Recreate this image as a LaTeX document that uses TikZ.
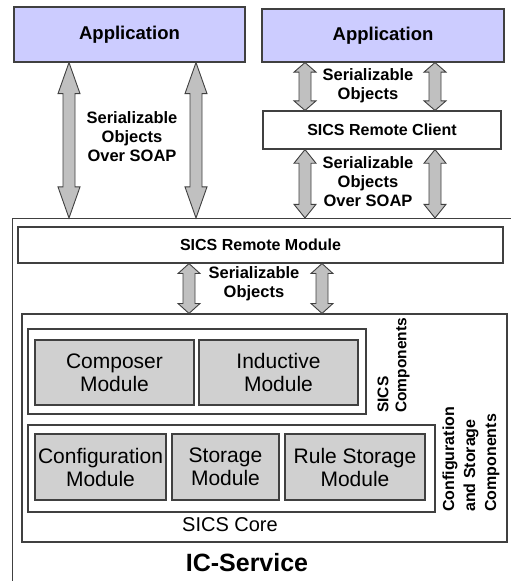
\documentclass[tikz,border=0pt]{standalone}
\usepackage{fontspec}
\setmainfont{Liberation Sans}
\usetikzlibrary{calc}
\definecolor{appfill}{RGB}{204,204,255}
\definecolor{modfill}{RGB}{208,208,208}
\definecolor{arrfill}{RGB}{192,192,192}
\definecolor{bordercol}{RGB}{64,64,64}
\tikzset{
  box/.style={draw=bordercol, line width=1.1pt, rectangle, inner sep=0pt},
  appbox/.style={box, fill=appfill, font=\bfseries\fontsize{18.5}{21}\selectfont},
  whitebox/.style={box, fill=white, font=\bfseries\fontsize{16}{19}\selectfont},
  modbox/.style={box, fill=modfill, align=center, font=\fontsize{21}{23}\selectfont},
  lbl/.style={align=center, inner sep=0pt, font=\bfseries\fontsize{16.5}{19}\selectfont},
  sidelbl/.style={rotate=90, anchor=west, align=left, inner sep=0pt},
  arr/.style={draw=bordercol, line width=0.9pt, fill=arrfill, line join=miter}
}
\newcommand\dblarr[3]{%
  \path[arr] let \p1=(#2), \p2=(#3), \n1={0.2*(\y1-\y2)} in
    (#1pt,\y1) -- ({#1pt+11pt},{\y1-\n1*1pt}) -- ({#1pt+6pt},{\y1-\n1*1pt})
    -- ({#1pt+6pt},{\y2+\n1*1pt}) -- ({#1pt+11pt},{\y2+\n1*1pt}) -- (#1pt,\y2)
    -- ({#1pt-11pt},{\y2+\n1*1pt}) -- ({#1pt-6pt},{\y2+\n1*1pt})
    -- ({#1pt-6pt},{\y1-\n1*1pt}) -- ({#1pt-11pt},{\y1-\n1*1pt}) -- cycle;
}
\begin{document}
\begin{tikzpicture}[x=1pt,y=-1pt]
\useasboundingbox (0,0) rectangle (511,581);
\clip (0,0) rectangle (511,581);
\fill[white] (0,0) rectangle (511,581);

% IC-Service container
\node[box, fill=white, minimum width=560, minimum height=430, anchor=north west] (ic) at (12,218) {};

% applications and client
\node[appbox, minimum width=231, minimum height=55] (app1) at (129.5,34.5) {Application};
\node[appbox, minimum width=242, minimum height=53] (app2) at (383,35.5) {Application};
\node[whitebox, minimum width=238, minimum height=38] (client) at (382,130) {SICS Remote Client};

% remote module
\node[whitebox, minimum width=485, minimum height=36] (rm) at (260.5,245) {SICS Remote Module};

% configuration and storage components
\node[box, fill=white, minimum width=485, minimum height=228] (cfg) at (264.5,428) {};
\node[box, fill=white, minimum width=338, minimum height=85] (comp) at (197,371.5) {};
\node[modbox, minimum width=159, minimum height=65] (composer) at (114.5,372.5) {Composer\\Module};
\node[modbox, minimum width=159, minimum height=65] (inductive) at (278.5,372.5) {Inductive\\Module};
\node[box, fill=white, minimum width=407, minimum height=87] (core) at (231.5,468.5) {};
\node[modbox, minimum width=131, minimum height=66] (config) at (100.5,467) {Configuration\\Module};
\node[modbox, minimum width=107, minimum height=66] (storage) at (225.5,467) {Storage\\Module};
\node[modbox, minimum width=140, minimum height=66] (rule) at (355,467) {Rule Storage\\Module};

% arrows
\dblarr{69}{app1.south}{ic.north}
\dblarr{196}{app1.south}{ic.north}
\dblarr{305}{app2.south}{client.north}
\dblarr{435}{app2.south}{client.north}
\dblarr{305}{client.south}{ic.north}
\dblarr{435}{client.south}{ic.north}
\dblarr{189}{rm.south}{cfg.north}
\dblarr{322}{rm.south}{cfg.north}

% labels
\node[lbl] (l1) at (132,137) {Serializable\\Objects\\Over SOAP};
\node[lbl] (l2) at (368,85.5) {Serializable\\Objects};
\node[lbl] (l3) at (368,182) {Serializable\\Objects\\Over SOAP};
\node[lbl] (l4) at (254,284) {Serializable\\Objects};
\node[sidelbl, font=\bfseries\fontsize{15.5}{18}\selectfont] (l5) at (393.5,413) {SICS\\Components};
\node[sidelbl, font=\bfseries\fontsize{16}{21}\selectfont] (l6) at (471,512) {Configuration\\and Storage\\Components};
\node[inner sep=0pt, font=\fontsize{20}{22}\selectfont] (l7) at (230,525) {SICS Core};
\node[inner sep=0pt, font=\bfseries\fontsize{25}{28}\selectfont] (l8) at (247,563) {IC-Service};
\end{tikzpicture}
\end{document}
